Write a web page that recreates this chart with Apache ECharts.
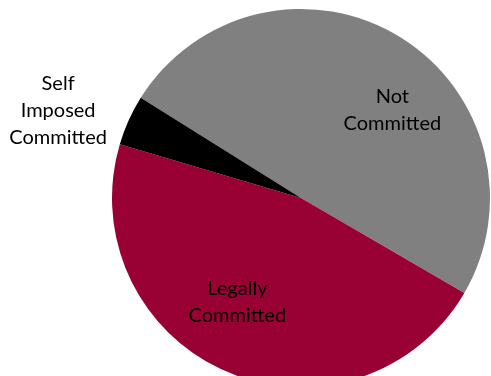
<!DOCTYPE html>
<html>
<head>
<meta charset="utf-8">
<script src="https://cdn.jsdelivr.net/npm/echarts@6/dist/echarts.min.js"></script>
<style>
  html, body { margin: 0; padding: 0; background: #ffffff; }
  #chart { width: 491px; height: 376px; }
</style>
</head>
<body>
<div id="chart"></div>
<script>
// Commitment status shares (percent)
const categories = ['Not\nCommitted', 'Legally\nCommitted', 'Self\nImposed\nCommitted'];
const shares = [49.5, 46.2, 4.3];
const colors = ['#808080', '#990033', '#000000'];
// label nudges from the default inside position
const labelShift = [[41, -4], [-25, 15], [-154, -47]];

const chart = echarts.init(document.getElementById('chart'), null, { renderer: 'canvas' });

chart.setOption({
  animation: false,
  series: [{
    type: 'pie',
    center: [301, 198],
    radius: 189,
    startAngle: 148,
    clockwise: true,
    avoidLabelOverlap: false,
    label: {
      show: true,
      position: 'inside',
      color: '#000000',
      fontFamily: 'Lato',
      fontSize: 20,
      lineHeight: 27,
      align: 'center'
    },
    labelLine: { show: false },
    labelLayout: function (params) {
      const s = labelShift[params.dataIndex];
      return { dx: s[0], dy: s[1] };
    },
    itemStyle: { borderWidth: 0 },
    emphasis: { disabled: true },
    data: categories.map((name, i) => ({
      name: name,
      value: shares[i],
      itemStyle: { color: colors[i] }
    }))
  }]
});
</script>
</body>
</html>
